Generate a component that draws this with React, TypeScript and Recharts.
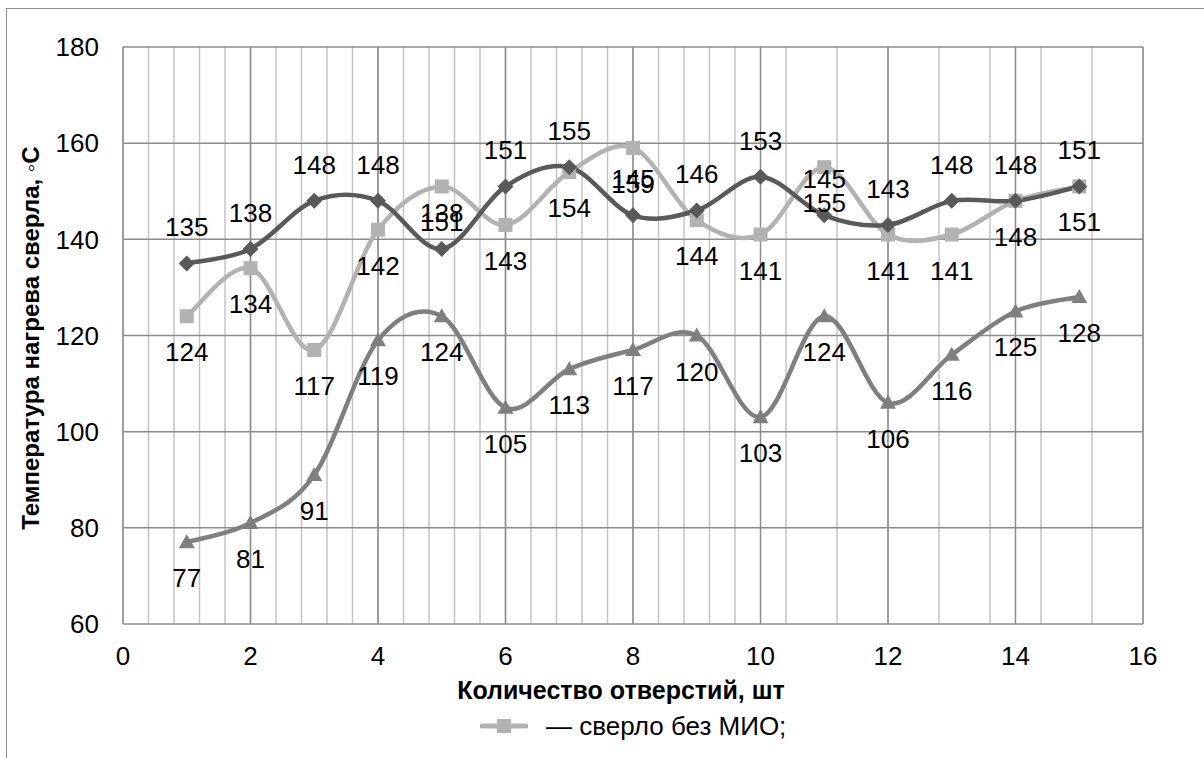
import { LineChart, Line, XAxis, YAxis, CartesianGrid, LabelList } from 'recharts';

const holes = [1, 2, 3, 4, 5, 6, 7, 8, 9, 10, 11, 12, 13, 14, 15];
const drillNoMio = [124, 134, 117, 142, 151, 143, 154, 159, 144, 141, 155, 141, 141, 148, 151];
const drillDark = [135, 138, 148, 148, 138, 151, 155, 145, 146, 153, 145, 143, 148, 148, 151];
const drillTriangle = [77, 81, 91, 119, 124, 105, 113, 117, 120, 103, 124, 106, 116, 125, 128];

const xTicks = [0, 2, 4, 6, 8, 10, 12, 14, 16];
const yTicks = [60, 80, 100, 120, 140, 160, 180];
const xMinor = Array.from({ length: 41 }, (_, i) => +(i * 0.4).toFixed(1));

const data = holes.map((h, i) => ({
  x: h,
  noMio: drillNoMio[i],
  dark: drillDark[i],
  tri: drillTriangle[i],
}));

const FONT = '"Liberation Sans", Arial, sans-serif';
const DARK = '#595959';
const LIGHT = '#b2b2b2';
const MID = '#7f7f7f';

// Excel-like smoothed line (Catmull-Rom as cubic bezier)
const excelCurve = (context: any) => {
  let pts: [number, number][] = [];
  return {
    areaStart() {},
    areaEnd() {},
    lineStart() {
      pts = [];
    },
    lineEnd() {
      const n = pts.length;
      if (!n) return;
      context.moveTo(pts[0][0], pts[0][1]);
      const t = 1 / 6;
      for (let i = 0; i < n - 1; i++) {
        const p0 = pts[Math.max(i - 1, 0)];
        const p1 = pts[i];
        const p2 = pts[i + 1];
        const p3 = pts[Math.min(i + 2, n - 1)];
        context.bezierCurveTo(
          p1[0] + (p2[0] - p0[0]) * t,
          p1[1] + (p2[1] - p0[1]) * t,
          p2[0] - (p3[0] - p1[0]) * t,
          p2[1] - (p3[1] - p1[1]) * t,
          p2[0],
          p2[1]
        );
      }
    },
    point(x: number, y: number) {
      pts.push([x, y]);
    },
  };
};

const diamondDot = (props: any) => {
  const { cx, cy, index } = props;
  const s = 8;
  return (
    <polygon
      key={`d-${index}`}
      points={`${cx},${cy - s} ${cx + s},${cy} ${cx},${cy + s} ${cx - s},${cy}`}
      fill={DARK}
    />
  );
};

const squareDot = (props: any) => {
  const { cx, cy, index } = props;
  return <rect key={`s-${index}`} x={cx - 7} y={cy - 7} width={14} height={14} fill={LIGHT} />;
};

const triangleDot = (props: any) => {
  const { cx, cy, index } = props;
  return (
    <polygon
      key={`t-${index}`}
      points={`${cx},${cy - 8} ${cx + 8},${cy + 6} ${cx - 8},${cy + 6}`}
      fill={MID}
    />
  );
};

const makeLabel = (dy: number) => (props: any) => {
  const { x, y, value, index } = props;
  return (
    <text
      key={`l-${index}`}
      x={x}
      y={y + dy}
      textAnchor="middle"
      dominantBaseline="central"
      fontSize={26}
      fontFamily={FONT}
      fill="#000"
    >
      {value}
    </text>
  );
};

const App = () => {
  return (
    <div style={{ position: 'absolute', left: 0, top: 0, width: 1204, height: 758, fontFamily: FONT }}>
      <div
        style={{
          position: 'absolute',
          left: 6,
          top: 8,
          width: 1198,
          height: 750,
          boxSizing: 'border-box',
          borderTop: '1.5px solid #8c8c8c',
          borderLeft: '1.5px solid #8c8c8c',
        }}
      />
      <div style={{ position: 'absolute', left: 0, top: 0 }}>
        <LineChart width={1204} height={758} data={data} margin={{ top: 47, right: 61, left: 0, bottom: 0 }}>
          <CartesianGrid
            horizontal={false}
            verticalValues={xMinor}
            stroke="#c4c4c4"
            strokeWidth={1.5}
          />
          <CartesianGrid
            horizontalValues={yTicks}
            verticalValues={xTicks}
            stroke="#8c8c8c"
            strokeWidth={1.5}
          />
          <XAxis
            dataKey="x"
            type="number"
            domain={[0, 16]}
            ticks={xTicks}
            height={134}
            axisLine={false}
            tickLine={false}
            tickSize={0}
            tickMargin={23}
            tick={{ fontSize: 26, fill: '#000', fontFamily: FONT }}
            label={{
              content: () => (
                <text
                  x={621}
                  y={690}
                  textAnchor="middle"
                  dominantBaseline="central"
                  fontSize={25}
                  fontWeight="bold"
                  fontFamily={FONT}
                  fill="#000"
                >
                  Количество отверстий, шт
                </text>
              ),
            }}
          />
          <YAxis
            type="number"
            domain={[60, 180]}
            ticks={yTicks}
            width={123}
            axisLine={false}
            tickLine={false}
            tickSize={0}
            tickMargin={24}
            tick={{ fontSize: 26, fill: '#000', fontFamily: FONT }}
            label={{
              content: () => (
                <text
                  x={30}
                  y={338}
                  transform="rotate(-90 30 338)"
                  textAnchor="middle"
                  dominantBaseline="central"
                  fontSize={24}
                  fontWeight="bold"
                  fontFamily={FONT}
                  fill="#000"
                >
                  Температура нагрева сверла, ◦C
                </text>
              ),
            }}
          />
          <Line
            dataKey="tri"
            name="tri"
            type={excelCurve as any}
            stroke={MID}
            strokeWidth={4.5}
            dot={triangleDot}
            activeDot={false}
            isAnimationActive={false}
          >
            <LabelList dataKey="tri" content={makeLabel(36)} />
          </Line>
          <Line
            dataKey="noMio"
            name="— сверло без МИО;"
            type={excelCurve as any}
            stroke={LIGHT}
            strokeWidth={4.5}
            dot={squareDot}
            activeDot={false}
            isAnimationActive={false}
          >
            <LabelList dataKey="noMio" content={makeLabel(36)} />
          </Line>
          <Line
            dataKey="dark"
            name="dark"
            type={excelCurve as any}
            stroke={DARK}
            strokeWidth={4.5}
            dot={diamondDot}
            activeDot={false}
            isAnimationActive={false}
          >
            <LabelList dataKey="dark" content={makeLabel(-36)} />
          </Line>
        </LineChart>
      </div>
      <div
        style={{
          position: 'absolute',
          left: 480,
          top: 710,
          height: 32,
          display: 'flex',
          alignItems: 'center',
          fontSize: 26,
          color: '#000',
        }}
      >
        <svg width={48} height={20} style={{ marginRight: 18 }}>
          <line x1={2} y1={10} x2={46} y2={10} stroke={LIGHT} strokeWidth={5} strokeLinecap="round" />
          <rect x={17} y={3} width={14} height={14} fill={LIGHT} />
        </svg>
        <span>— сверло без МИО;</span>
      </div>
    </div>
  );
};

export default App;
